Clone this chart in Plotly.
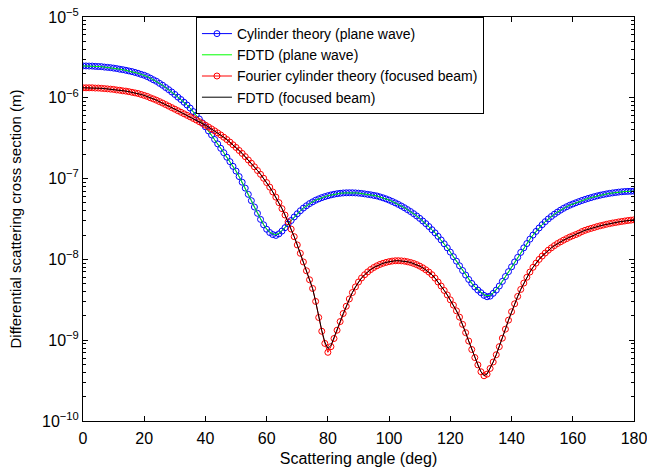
import plotly.graph_objects as go

angle = list(range(0, 181))

# Cylinder theory (plane wave)
cyl_plane = [
    2.48e-6, 2.48e-6, 2.47e-6, 2.47e-6, 2.45e-6, 2.44e-6, 2.43e-6, 2.40e-6, 2.38e-6, 2.36e-6,
    2.33e-6, 2.30e-6, 2.26e-6, 2.23e-6, 2.19e-6, 2.15e-6, 2.11e-6, 2.06e-6, 2.01e-6, 1.95e-6,
    1.90e-6, 1.83e-6, 1.75e-6, 1.67e-6, 1.60e-6, 1.51e-6, 1.43e-6, 1.34e-6, 1.26e-6, 1.18e-6,
    1.10e-6, 1.02e-6, 9.51e-7, 8.81e-7, 8.13e-7, 7.46e-7, 6.76e-7, 6.10e-7, 5.47e-7, 4.89e-7,
    4.37e-7, 3.89e-7, 3.47e-7, 3.05e-7, 2.69e-7, 2.37e-7, 2.09e-7, 1.84e-7, 1.62e-7, 1.42e-7,
    1.24e-7, 1.06e-7, 9.02e-8, 7.62e-8, 6.38e-8, 5.33e-8, 4.45e-8, 3.72e-8, 3.13e-8, 2.68e-8,
    2.36e-8, 2.15e-8, 2.03e-8, 1.98e-8, 2.07e-8, 2.24e-8, 2.47e-8, 2.74e-8, 3.03e-8, 3.35e-8,
    3.67e-8, 4.00e-8, 4.32e-8, 4.61e-8, 4.90e-8, 5.15e-8, 5.40e-8, 5.61e-8, 5.81e-8, 5.98e-8,
    6.14e-8, 6.28e-8, 6.40e-8, 6.50e-8, 6.58e-8, 6.64e-8, 6.67e-8, 6.68e-8, 6.68e-8, 6.65e-8,
    6.61e-8, 6.55e-8, 6.47e-8, 6.38e-8, 6.30e-8, 6.19e-8, 6.10e-8, 5.94e-8, 5.78e-8, 5.61e-8,
    5.42e-8, 5.22e-8, 5.01e-8, 4.80e-8, 4.58e-8, 4.36e-8, 4.13e-8, 3.91e-8, 3.68e-8, 3.45e-8,
    3.22e-8, 2.99e-8, 2.77e-8, 2.55e-8, 2.33e-8, 2.13e-8, 1.93e-8, 1.74e-8, 1.56e-8, 1.39e-8,
    1.23e-8, 1.08e-8, 9.51e-9, 8.34e-9, 7.29e-9, 6.40e-9, 5.65e-9, 5.04e-9, 4.55e-9, 4.17e-9,
    3.87e-9, 3.59e-9, 3.45e-9, 3.51e-9, 3.80e-9, 4.17e-9, 4.68e-9, 5.35e-9, 6.14e-9, 7.05e-9,
    8.09e-9, 9.29e-9, 1.06e-8, 1.22e-8, 1.39e-8, 1.57e-8, 1.78e-8, 2.00e-8, 2.22e-8, 2.45e-8,
    2.69e-8, 2.93e-8, 3.17e-8, 3.40e-8, 3.63e-8, 3.85e-8, 4.07e-8, 4.29e-8, 4.49e-8, 4.68e-8,
    4.85e-8, 5.02e-8, 5.19e-8, 5.36e-8, 5.52e-8, 5.68e-8, 5.82e-8, 5.97e-8, 6.11e-8, 6.24e-8,
    6.35e-8, 6.46e-8, 6.56e-8, 6.65e-8, 6.73e-8, 6.81e-8, 6.87e-8, 6.92e-8, 6.95e-8, 6.98e-8,
    7.00e-8,
]

# FDTD (plane wave)
fdtd_plane = [
    2.48e-6, 2.48e-6, 2.47e-6, 2.47e-6, 2.45e-6, 2.44e-6, 2.43e-6, 2.40e-6, 2.38e-6, 2.36e-6,
    2.33e-6, 2.30e-6, 2.26e-6, 2.23e-6, 2.19e-6, 2.15e-6, 2.11e-6, 2.06e-6, 2.01e-6, 1.95e-6,
    1.90e-6, 1.83e-6, 1.75e-6, 1.67e-6, 1.60e-6, 1.51e-6, 1.43e-6, 1.34e-6, 1.26e-6, 1.18e-6,
    1.10e-6, 1.02e-6, 9.51e-7, 8.81e-7, 8.13e-7, 7.46e-7, 6.76e-7, 6.10e-7, 5.47e-7, 4.89e-7,
    4.37e-7, 3.89e-7, 3.47e-7, 3.05e-7, 2.69e-7, 2.37e-7, 2.09e-7, 1.84e-7, 1.62e-7, 1.42e-7,
    1.24e-7, 1.06e-7, 9.02e-8, 7.62e-8, 6.38e-8, 5.33e-8, 4.45e-8, 3.72e-8, 3.13e-8, 2.70e-8,
    2.39e-8, 2.18e-8, 2.07e-8, 2.03e-8, 2.10e-8, 2.26e-8, 2.48e-8, 2.75e-8, 3.04e-8, 3.35e-8,
    3.67e-8, 4.00e-8, 4.32e-8, 4.61e-8, 4.90e-8, 5.15e-8, 5.40e-8, 5.61e-8, 5.81e-8, 5.98e-8,
    6.14e-8, 6.28e-8, 6.40e-8, 6.50e-8, 6.58e-8, 6.64e-8, 6.67e-8, 6.68e-8, 6.68e-8, 6.65e-8,
    6.61e-8, 6.55e-8, 6.47e-8, 6.38e-8, 6.30e-8, 6.19e-8, 6.10e-8, 5.94e-8, 5.78e-8, 5.61e-8,
    5.42e-8, 5.22e-8, 5.01e-8, 4.80e-8, 4.58e-8, 4.36e-8, 4.13e-8, 3.91e-8, 3.68e-8, 3.45e-8,
    3.22e-8, 2.99e-8, 2.77e-8, 2.55e-8, 2.33e-8, 2.13e-8, 1.93e-8, 1.74e-8, 1.56e-8, 1.39e-8,
    1.23e-8, 1.08e-8, 9.51e-9, 8.34e-9, 7.29e-9, 6.40e-9, 5.65e-9, 5.06e-9, 4.58e-9, 4.21e-9,
    3.92e-9, 3.66e-9, 3.55e-9, 3.60e-9, 3.86e-9, 4.20e-9, 4.70e-9, 5.36e-9, 6.14e-9, 7.05e-9,
    8.09e-9, 9.29e-9, 1.06e-8, 1.22e-8, 1.39e-8, 1.57e-8, 1.78e-8, 2.00e-8, 2.22e-8, 2.45e-8,
    2.69e-8, 2.93e-8, 3.17e-8, 3.40e-8, 3.63e-8, 3.85e-8, 4.07e-8, 4.29e-8, 4.49e-8, 4.68e-8,
    4.85e-8, 5.02e-8, 5.19e-8, 5.36e-8, 5.52e-8, 5.68e-8, 5.82e-8, 5.97e-8, 6.11e-8, 6.24e-8,
    6.35e-8, 6.46e-8, 6.56e-8, 6.65e-8, 6.73e-8, 6.81e-8, 6.87e-8, 6.92e-8, 6.95e-8, 6.98e-8,
    7.00e-8,
]

# Fourier cylinder theory (focused beam)
cyl_focused = [
    1.33e-6, 1.33e-6, 1.33e-6, 1.33e-6, 1.32e-6, 1.32e-6, 1.31e-6, 1.30e-6, 1.29e-6, 1.28e-6,
    1.27e-6, 1.25e-6, 1.24e-6, 1.22e-6, 1.21e-6, 1.19e-6, 1.17e-6, 1.15e-6, 1.13e-6, 1.10e-6,
    1.07e-6, 1.04e-6, 1.00e-6, 9.68e-7, 9.33e-7, 8.97e-7, 8.61e-7, 8.24e-7, 7.89e-7, 7.55e-7,
    7.23e-7, 6.92e-7, 6.62e-7, 6.34e-7, 6.07e-7, 5.81e-7, 5.56e-7, 5.31e-7, 5.06e-7, 4.82e-7,
    4.58e-7, 4.35e-7, 4.12e-7, 3.90e-7, 3.68e-7, 3.47e-7, 3.25e-7, 3.04e-7, 2.83e-7, 2.62e-7,
    2.43e-7, 2.23e-7, 2.05e-7, 1.87e-7, 1.70e-7, 1.55e-7, 1.40e-7, 1.26e-7, 1.13e-7, 1.01e-7,
    8.93e-8, 7.85e-8, 6.84e-8, 5.90e-8, 5.04e-8, 4.25e-8, 3.54e-8, 2.92e-8, 2.37e-8, 1.91e-8,
    1.51e-8, 1.19e-8, 9.29e-9, 7.23e-9, 5.60e-9, 4.37e-9, 3.02e-9, 1.91e-9, 1.29e-9, 9.12e-10,
    7.08e-10, 8.32e-10, 1.05e-9, 1.33e-9, 1.70e-9, 2.14e-9, 2.63e-9, 3.24e-9, 3.89e-9, 4.57e-9,
    5.25e-9, 5.89e-9, 6.46e-9, 7.00e-9, 7.50e-9, 7.94e-9, 8.32e-9, 8.67e-9, 8.95e-9, 9.18e-9,
    9.38e-9, 9.53e-9, 9.62e-9, 9.64e-9, 9.59e-9, 9.51e-9, 9.35e-9, 9.16e-9, 8.91e-9, 8.61e-9,
    8.26e-9, 7.87e-9, 7.43e-9, 6.97e-9, 6.46e-9, 5.86e-9, 5.25e-9, 4.68e-9, 4.13e-9, 3.63e-9,
    3.16e-9, 2.72e-9, 2.31e-9, 1.93e-9, 1.57e-9, 1.24e-9, 9.77e-10, 7.67e-10, 6.10e-10, 4.95e-10,
    4.07e-10, 3.63e-10, 3.80e-10, 4.47e-10, 5.37e-10, 6.61e-10, 8.32e-10, 1.06e-9, 1.37e-9, 1.77e-9,
    2.25e-9, 2.82e-9, 3.48e-9, 4.25e-9, 5.09e-9, 6.01e-9, 6.98e-9, 7.98e-9, 8.99e-9, 1.00e-8,
    1.10e-8, 1.20e-8, 1.30e-8, 1.39e-8, 1.48e-8, 1.57e-8, 1.65e-8, 1.73e-8, 1.81e-8, 1.89e-8,
    1.96e-8, 2.03e-8, 2.11e-8, 2.21e-8, 2.29e-8, 2.36e-8, 2.42e-8, 2.48e-8, 2.55e-8, 2.61e-8,
    2.66e-8, 2.72e-8, 2.77e-8, 2.82e-8, 2.86e-8, 2.91e-8, 2.95e-8, 2.99e-8, 3.03e-8, 3.06e-8,
    3.09e-8,
]

# FDTD (focused beam)
fdtd_focused = [
    1.33e-6, 1.33e-6, 1.33e-6, 1.33e-6, 1.32e-6, 1.32e-6, 1.31e-6, 1.30e-6, 1.29e-6, 1.28e-6,
    1.27e-6, 1.25e-6, 1.24e-6, 1.22e-6, 1.21e-6, 1.19e-6, 1.17e-6, 1.15e-6, 1.13e-6, 1.10e-6,
    1.07e-6, 1.04e-6, 1.00e-6, 9.68e-7, 9.33e-7, 8.97e-7, 8.61e-7, 8.24e-7, 7.89e-7, 7.55e-7,
    7.23e-7, 6.92e-7, 6.62e-7, 6.34e-7, 6.07e-7, 5.81e-7, 5.56e-7, 5.31e-7, 5.06e-7, 4.82e-7,
    4.58e-7, 4.35e-7, 4.12e-7, 3.90e-7, 3.68e-7, 3.47e-7, 3.25e-7, 3.04e-7, 2.83e-7, 2.62e-7,
    2.43e-7, 2.23e-7, 2.05e-7, 1.87e-7, 1.70e-7, 1.55e-7, 1.40e-7, 1.26e-7, 1.13e-7, 1.01e-7,
    8.93e-8, 7.85e-8, 6.84e-8, 5.90e-8, 5.04e-8, 4.25e-8, 3.54e-8, 2.92e-8, 2.37e-8, 1.91e-8,
    1.51e-8, 1.19e-8, 9.29e-9, 7.23e-9, 5.60e-9, 4.37e-9, 3.02e-9, 1.93e-9, 1.32e-9, 9.50e-10,
    7.90e-10, 8.60e-10, 1.06e-9, 1.33e-9, 1.70e-9, 2.14e-9, 2.63e-9, 3.24e-9, 3.89e-9, 4.57e-9,
    5.25e-9, 5.89e-9, 6.46e-9, 7.00e-9, 7.50e-9, 7.94e-9, 8.32e-9, 8.67e-9, 8.95e-9, 9.18e-9,
    9.38e-9, 9.53e-9, 9.62e-9, 9.64e-9, 9.59e-9, 9.51e-9, 9.35e-9, 9.16e-9, 8.91e-9, 8.61e-9,
    8.26e-9, 7.87e-9, 7.43e-9, 6.97e-9, 6.46e-9, 5.86e-9, 5.25e-9, 4.68e-9, 4.13e-9, 3.63e-9,
    3.16e-9, 2.72e-9, 2.31e-9, 1.93e-9, 1.57e-9, 1.24e-9, 9.77e-10, 7.67e-10, 6.10e-10, 4.95e-10,
    4.07e-10, 3.65e-10, 3.82e-10, 4.47e-10, 5.37e-10, 6.61e-10, 8.32e-10, 1.06e-9, 1.37e-9, 1.77e-9,
    2.25e-9, 2.82e-9, 3.48e-9, 4.25e-9, 5.09e-9, 6.01e-9, 6.98e-9, 7.98e-9, 8.99e-9, 1.00e-8,
    1.10e-8, 1.20e-8, 1.30e-8, 1.39e-8, 1.48e-8, 1.57e-8, 1.65e-8, 1.73e-8, 1.81e-8, 1.89e-8,
    1.96e-8, 2.03e-8, 2.11e-8, 2.21e-8, 2.29e-8, 2.36e-8, 2.42e-8, 2.48e-8, 2.55e-8, 2.61e-8,
    2.66e-8, 2.72e-8, 2.77e-8, 2.82e-8, 2.86e-8, 2.91e-8, 2.95e-8, 2.99e-8, 3.03e-8, 3.06e-8,
    3.09e-8,
]

x_ticks = [0, 20, 40, 60, 80, 100, 120, 140, 160, 180]
y_decades = [-10, -9, -8, -7, -6, -5]
y_tick_vals = [10.0 ** d for d in y_decades]
y_tick_text = ["10<sup>\u2212%d</sup>" % (-d) for d in y_decades]
y_minor_vals = [m * 10.0 ** d for d in y_decades[:-1] for m in range(2, 10)]

FONT = "Liberation Sans, Arial, Helvetica, sans-serif"

fig = go.Figure()
fig.add_trace(go.Scatter(
    x=angle, y=cyl_plane, mode="lines+markers", name="Cylinder theory (plane wave)",
    line=dict(color="#0000ff", width=1),
    marker=dict(symbol="circle-open", size=6, color="#0000ff", line=dict(width=1, color="#0000ff")),
))
fig.add_trace(go.Scatter(
    x=angle, y=fdtd_plane, mode="lines", name="FDTD (plane wave)",
    line=dict(color="#00ff00", width=1),
))
fig.add_trace(go.Scatter(
    x=angle, y=cyl_focused, mode="lines+markers", name="Fourier cylinder theory (focused beam)",
    line=dict(color="#ff0000", width=1),
    marker=dict(symbol="circle-open", size=6, color="#ff0000", line=dict(width=1, color="#ff0000")),
))
fig.add_trace(go.Scatter(
    x=angle, y=fdtd_focused, mode="lines", name="FDTD (focused beam)",
    line=dict(color="#000000", width=1),
))

fig.update_layout(
    width=647, height=467,
    margin=dict(l=83, r=13, t=17, b=46),
    paper_bgcolor="white", plot_bgcolor="white",
    font=dict(family=FONT, size=16, color="black"),
    showlegend=True,
    legend=dict(
        x=0.205, y=1.0, xanchor="left", yanchor="top",
        bgcolor="white", bordercolor="black", borderwidth=1,
        font=dict(family=FONT, size=14, color="black"),
        tracegroupgap=0, itemwidth=30,
    ),
)
fig.update_xaxes(
    range=[0, 180], tickvals=x_ticks, ticks="inside", ticklen=5, tickcolor="black",
    showline=True, linecolor="black", linewidth=1, mirror="ticks", showgrid=False, zeroline=False,
    automargin=False, ticklabeloverflow="allow", ticklabelstandoff=3,
    title=dict(text="Scattering angle (deg)", font=dict(size=16), standoff=6),
    tickfont=dict(size=16),
)
fig.update_yaxes(
    type="log", range=[-10, -5], tickvals=y_tick_vals, ticktext=y_tick_text,
    ticks="inside", ticklen=5, tickcolor="black",
    minor=dict(tickvals=y_minor_vals, ticks="inside", ticklen=3, tickcolor="black", showgrid=False),
    showline=True, linecolor="black", linewidth=1, mirror="ticks", showgrid=False, zeroline=False,
    automargin=False, ticklabeloverflow="allow",
    title=dict(text="Differential scattering cross section (m)", font=dict(size=15), standoff=16),
    tickfont=dict(size=16),
)

# Remove the default page margin so the 647x467 figure fills the window exactly.
fig.write_html(
    "out.html",
    config={"displayModeBar": False},
    post_script="document.body.style.margin='0';document.body.style.overflow='hidden';",
)
